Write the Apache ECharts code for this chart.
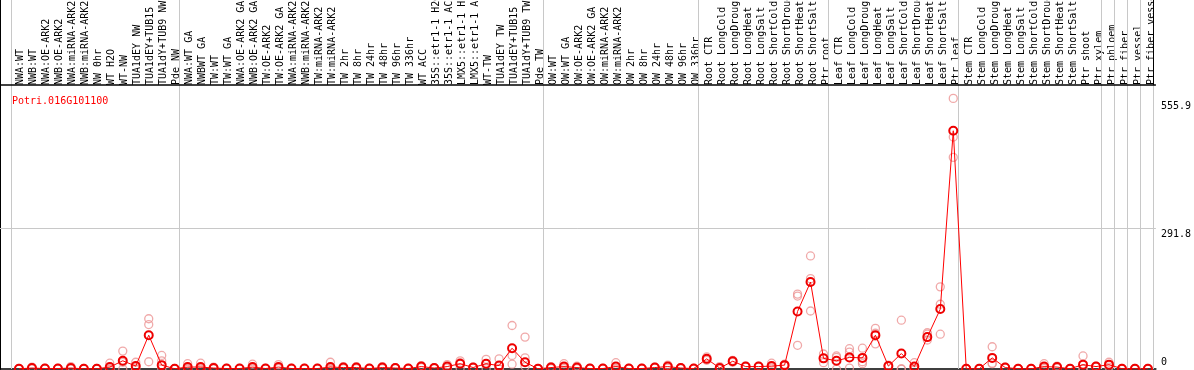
<!DOCTYPE html>
<html><head><meta charset="utf-8">
<script src="https://cdn.jsdelivr.net/npm/echarts@6/dist/echarts.min.js"></script>
<style>html,body{margin:0;padding:0;background:#fff;overflow:hidden}#c{width:1194px;height:370px}</style>
</head><body><div id="c"></div>
<script>
const geneId = 'Potri.016G101100';
const categories = [
  'NWA:WT','NWB:WT','NWA:OE-ARK2','NWB:OE-ARK2','NWA:miRNA-ARK2','NWB:miRNA-ARK2','NW 0hr','WT H2O','WT-NW','TUA1dEY NW','TUA1dEY+TUB15','TUA1dY+TUB9 NW','Pde NW',
  'NWA:WT GA','NWBWT GA','TW:WT','TW:WT GA','NWA:OE-ARK2 GA','NWB:OE-ARK2 GA','TW:OE-ARK2','TW:OE-ARK2 GA','NWA:miRNA-ARK2','NWB:miRNA-ARK2','TW:miRNA-ARK2','TW:miRNA-ARK2','TW 2hr','TW 8hr','TW 24hr','TW 48hr','TW 96hr','TW 336hr','WT ACC','35S::etr1-1 H2O','35S::etr1-1 ACC','LMX5::etr1-1 H2O','LMX5::etr1-1 ACC','WT-TW','TUA1dEY TW','TUA1dEY+TUB15','TUA1dY+TUB9 TW','Pde TW',
  'OW:WT','OW:WT GA','OW:OE-ARK2','OW:OE-ARK2 GA','OW:miRNA-ARK2','OW:miRNA-ARK2','OW 2hr','OW 8hr','OW 24hr','OW 48hr','OW 96hr','OW 336hr',
  'Root CTR','Root LongCold','Root LongDrought','Root LongHeat','Root LongSalt','Root ShortCold','Root ShortDrought','Root ShortHeat','Root ShortSalt','Ptr root',
  'Leaf CTR','Leaf LongCold','Leaf LongDrought','Leaf LongHeat','Leaf LongSalt','Leaf ShortCold','Leaf ShortDrought','Leaf ShortHeat','Leaf ShortSalt','Ptr leaf',
  'Stem CTR','Stem LongCold','Stem LongDrought','Stem LongHeat','Stem LongSalt','Stem ShortCold','Stem ShortDrought','Stem ShortHeat','Stem ShortSalt','Ptr shoot',
  'Ptr xylem','Ptr phloem','Ptr fiber','Ptr vessel','Ptr fiber vessel'
];
const meanValues = [
  0.5,2,1,1,2,0.5,0.5,4,17,6,70,8,0.5,
  4,4,2,1,1,4,1,4,1,1,1,4,3,3,1,3,2,1,5,2,5,11,3,11,7,43,14,0.5,
  3,5,3,1,1,5,1,1,3,5,2,1,
  21,2,16,5,5,6,8,119,180,22,
  17,24,23,70,6,32,5,66,124,493,
  0.5,0.5,23,3,0.5,0.5,5,4,0.5,9,
  5,9,0.5,0.5,0.5
];
const rep1 = [
  1,4,1,1,5,1,1,12,37,14,104,28,1,
  11,12,4,1,1,10,1,9,1,1,1,14,5,5,1,5,3,1,7,3,9,17,4,20,21,90,66,1,
  5,11,6,1,1,13,1,1,4,8,3,1,
  25,5,18,6,6,12,10,155,234,31,
  27,42,43,84,8,101,13,75,170,560,
  1,1,46,4,1,1,11,6,1,27,
  6,14,1,1,1
];
const rep2 = [
  0.5,1,1,1,1,0.5,0.5,0,14,3,92,17,0.5,
  1,1,1,1,1,2,1,2,1,1,1,1,3,3,1,3,2,1,5,2,4,13,3,11,0,28,23,0.5,
  3,3,2,1,1,2,1,1,3,5,2,1,
  20,1,17,5,5,4,8,151,187,22,
  24,35,15,74,6,0,2,72,134,480,
  0.5,0.5,12,3,0.5,0.5,3,4,0.5,0,
  5,9,0.5,0.5,0.5
];
const rep3 = [
  0,1,0.5,0.5,0.5,0,0,0,0,0,15,0,0,
  0,0,1,0.5,0.5,0,0.5,1,0.5,0.5,0.5,0,1,1,0.5,1,1,0.5,3,1,2,2,2,1,0,10,5,0,
  1,1,1,0.5,0.5,0,0.5,0.5,2,2,1,0.5,
  18,0,14,4,4,2,6,49,120,13,
  0,2,11,52,5,0,0,60,72,438,
  0,0,11,2,0,0,1,2,0,0,
  4,4,0,0,0
];
const yTickValues = [0, 291.8, 555.9];
// index of the last category of each block (vertical separators)
const groupEnds = [-1, 12, 40, 52, 62, 72, 83, 84, 85, 86, 87];

const chart = echarts.init(document.getElementById('c'), null, {renderer: 'canvas'});
const FONT = 'DejaVu Sans Mono';
const pxStep = 13, firstPx = 19, plotW = 1158, plotH = 369, labelShift = 1;
const xMin = -firstPx / pxStep, xMax = xMin + plotW / pxStep;
const yMax = 763.6;
const headerVal = (plotH - 85) / plotH * yMax;

const repData = [];
[rep1, rep2, rep3].forEach(arr => arr.forEach((v, i) => { if (v != null) repData.push([i, v]); }));

const sepLines = groupEnds.map(e => ({xAxis: e + 0.385}));
const headerLeft = firstPx - pxStep / 2 + labelShift;

chart.setOption({
  animation: false,
  title: {text: geneId, left: 7, top: 91, textStyle: {color: '#ff0000', fontSize: 10, fontWeight: 'normal', fontFamily: FONT}},
  grid: [
    {left: 0, right: 1194 - plotW, top: 0, bottom: 370 - plotH},
    {left: headerLeft, right: 1194 - headerLeft - pxStep * categories.length, top: 85, height: 1}
  ],
  xAxis: [
    {type: 'value', gridIndex: 0, min: xMin, max: xMax, axisLine: {show: true, onZero: false, lineStyle: {color: '#000', width: 1.5}},
     axisTick: {show: false}, axisLabel: {show: false}, splitLine: {show: false}},
    {type: 'category', gridIndex: 1, position: 'top', data: categories, boundaryGap: true,
     axisLine: {show: false}, axisTick: {show: false},
     axisLabel: {interval: 0, rotate: 90, margin: 1, fontSize: 10, fontFamily: FONT, color: '#000', hideOverlap: false}}
  ],
  yAxis: [
    {type: 'value', gridIndex: 0, position: 'right', min: 0, max: yMax, splitLine: {show: false},
     axisLine: {show: false}, axisTick: {show: false},
     axisLabel: {customValues: yTickValues, margin: 5, fontSize: 10, fontFamily: FONT, color: '#000',
       formatter: v => (v === 0 ? '{z|' + v + '}' : '{n|' + v + '}'),
       rich: {n: {padding: [12, 0, 0, 0], fontSize: 10, fontFamily: FONT, color: '#000'},
              z: {padding: [0, 0, 14, 0], fontSize: 10, fontFamily: FONT, color: '#000'}}}},
    {type: 'value', gridIndex: 0, position: 'left', min: 0, max: yMax, splitLine: {show: false},
     axisLine: {show: true, lineStyle: {color: '#000', width: 2}}, axisTick: {show: false}, axisLabel: {show: false}},
    {type: 'value', gridIndex: 1, show: false}
  ],
  series: [
    {
      type: 'scatter', xAxisIndex: 0, yAxisIndex: 0, data: repData, z: 2,
      symbol: 'circle', symbolSize: 8,
      itemStyle: {color: 'rgba(0,0,0,0)', borderColor: '#ec9494', borderWidth: 1.3}
    },
    {
      type: 'line', xAxisIndex: 0, yAxisIndex: 0, z: 3,
      data: meanValues.map((v, i) => [i, v]),
      symbol: 'circle', symbolSize: 8, showAllSymbol: true,
      lineStyle: {color: '#ff0000', width: 1},
      itemStyle: {color: 'rgba(0,0,0,0)', borderColor: '#ee0000', borderWidth: 2},
      markLine: {
        silent: true, symbol: 'none', label: {show: false}, z: 1,
        lineStyle: {color: '#c8c8c8', width: 1, type: 'solid'},
        data: sepLines.concat([
          {yAxis: 291.8},
          {yAxis: headerVal, lineStyle: {color: '#000', width: 1.5}},
          [{coord: [groupEnds[groupEnds.length - 1] + 0.385, headerVal], lineStyle: {color: '#000', width: 1}},
           {coord: [groupEnds[groupEnds.length - 1] + 0.385, yMax]}]
        ])
      }
    }
  ]
});
</script></body></html>
